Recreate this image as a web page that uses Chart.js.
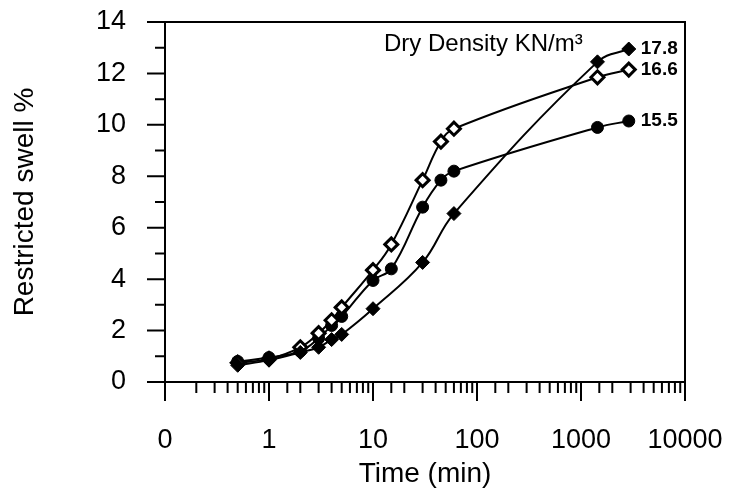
<!DOCTYPE html>
<html>
<head>
<meta charset="utf-8">
<script src="https://cdn.jsdelivr.net/npm/chart.js@4/dist/chart.umd.min.js"></script>
<style>
  body { margin: 0; background: #fff; }
  #wrap { width: 729px; height: 491px; }
</style>
</head>
<body>
<div id="wrap"><canvas id="swellChart"></canvas></div>
<script>
// data
const times178 = [0.5, 1, 2, 3, 4, 5, 10, 30, 60, 1440, 2880];
const swell178 = [0.65, 0.85, 1.15, 1.35, 1.65, 1.85, 2.85, 4.65, 6.55, 12.45, 12.95];
const times166 = [0.5, 1, 2, 3, 4, 5, 10, 15, 30, 45, 60, 1440, 2880];
const swell166 = [0.75, 0.9, 1.35, 1.9, 2.4, 2.9, 4.35, 5.35, 7.85, 9.35, 9.85, 11.85, 12.15];
const times155 = [0.5, 1, 2, 3, 4, 5, 10, 15, 30, 45, 60, 1440, 2880];
const swell155 = [0.8, 0.95, 1.2, 1.7, 2.2, 2.55, 3.95, 4.4, 6.8, 7.85, 8.2, 9.9, 10.15];
const densityLabels = ['17.8', '16.6', '15.5'];

function toPoints(xs, ys) {
  return xs.map(function(x, i) { return { x: x, y: ys[i] }; });
}

function isDecade(v) {
  const l = Math.log10(v);
  return Math.abs(l - Math.round(l)) < 1e-6;
}

// ticks, frame and text labels drawn on top
const extras = {
  id: 'extras',
  afterDraw: function(chart) {
    const ctx = chart.ctx;
    const xs = chart.scales.x, ys = chart.scales.y;
    const a = chart.chartArea;
    ctx.save();
    ctx.strokeStyle = '#000';
    ctx.lineWidth = 2;
    ctx.beginPath();
    // frame top and right
    ctx.moveTo(a.left, a.top); ctx.lineTo(a.right, a.top); ctx.lineTo(a.right, a.bottom);
    // x ticks
    xs.ticks.forEach(function(t) {
      const px = xs.getPixelForValue(t.value);
      ctx.moveTo(px, a.bottom);
      ctx.lineTo(px, a.bottom + (isDecade(t.value) ? 19 : 11));
    });
    // y ticks, minor at odd values
    for (let v = 0; v <= 14; v++) {
      const py = ys.getPixelForValue(v);
      ctx.moveTo(a.left, py);
      ctx.lineTo(a.left - (v % 2 === 0 ? 18 : 10), py);
    }
    ctx.stroke();

    ctx.fillStyle = '#000';
    ctx.textBaseline = 'middle';
    ctx.textAlign = 'left';
    ctx.font = '24px Arial, "Liberation Sans", sans-serif';
    ctx.fillText('Dry Density KN/m³', 384, 44);

    ctx.font = 'bold 19px Arial, "Liberation Sans", sans-serif';
    chart.data.datasets.forEach(function(ds, i) {
      const last = ds.data[ds.data.length - 1];
      ctx.fillText(densityLabels[i], xs.getPixelForValue(last.x) + 12, ys.getPixelForValue(last.y));
    });
    ctx.restore();
  }
};

const ctx = document.getElementById('swellChart').getContext('2d');
const chart = new Chart(ctx, {
  type: 'line',
  data: {
    datasets: [
      {
        label: '17.8',
        data: toPoints(times178, swell178),
        borderColor: '#000',
        borderWidth: 2,
        backgroundColor: '#000',
        pointStyle: 'rectRot',
        pointRadius: 7,
        pointBorderWidth: 1,
        pointBorderColor: '#000',
        tension: 0.4
      },
      {
        label: '16.6',
        data: toPoints(times166, swell166),
        borderColor: '#000',
        borderWidth: 2,
        backgroundColor: '#fff',
        pointStyle: 'rectRot',
        pointRadius: 6.5,
        pointBorderWidth: 3,
        pointBorderColor: '#000',
        tension: 0.4
      },
      {
        label: '15.5',
        data: toPoints(times155, swell155),
        borderColor: '#000',
        borderWidth: 2,
        backgroundColor: '#000',
        pointStyle: 'circle',
        pointRadius: 6,
        pointBorderWidth: 1,
        pointBorderColor: '#000',
        tension: 0.4
      }
    ]
  },
  options: {
    responsive: true,
    maintainAspectRatio: false,
    animation: false,
    layout: { padding: { top: 22, right: 44, left: 0, bottom: 0 } },
    plugins: {
      legend: { display: false },
      tooltip: { enabled: false }
    },
    scales: {
      x: {
        type: 'logarithmic',
        min: 0.1,
        max: 10000,
        border: { display: true, color: '#000', width: 2 },
        grid: { display: true, drawOnChartArea: false, color: 'rgba(0,0,0,0)', tickLength: 42 },
        ticks: {
          autoSkip: false,
          maxRotation: 0,
          color: '#000',
          padding: 0,
          font: { family: 'Arial, "Liberation Sans", sans-serif', size: 27 },
          callback: function(v) {
            if (!isDecade(v)) return '';
            return v === 0.1 ? '0' : String(Math.round(v));
          }
        },
        title: {
          display: true,
          text: 'Time (min)',
          color: '#000',
          padding: { top: 0, bottom: 0 },
          font: { family: 'Arial, "Liberation Sans", sans-serif', size: 28 }
        },
        afterFit: function(s) { s.height = 109; }
      },
      y: {
        min: 0,
        max: 14,
        border: { display: true, color: '#000', width: 2 },
        grid: { display: true, drawOnChartArea: false, color: 'rgba(0,0,0,0)', tickLength: 39 },
        ticks: {
          stepSize: 2,
          color: '#000',
          padding: 0,
          font: { family: 'Arial, "Liberation Sans", sans-serif', size: 27 }
        },
        title: {
          display: true,
          text: 'Restricted swell %',
          color: '#000',
          padding: { top: 8, bottom: 0 },
          font: { family: 'Arial, "Liberation Sans", sans-serif', size: 28 }
        },
        afterFit: function(s) { s.width = 165; }
      }
    }
  },
  plugins: [extras]
});
</script>
</body>
</html>
